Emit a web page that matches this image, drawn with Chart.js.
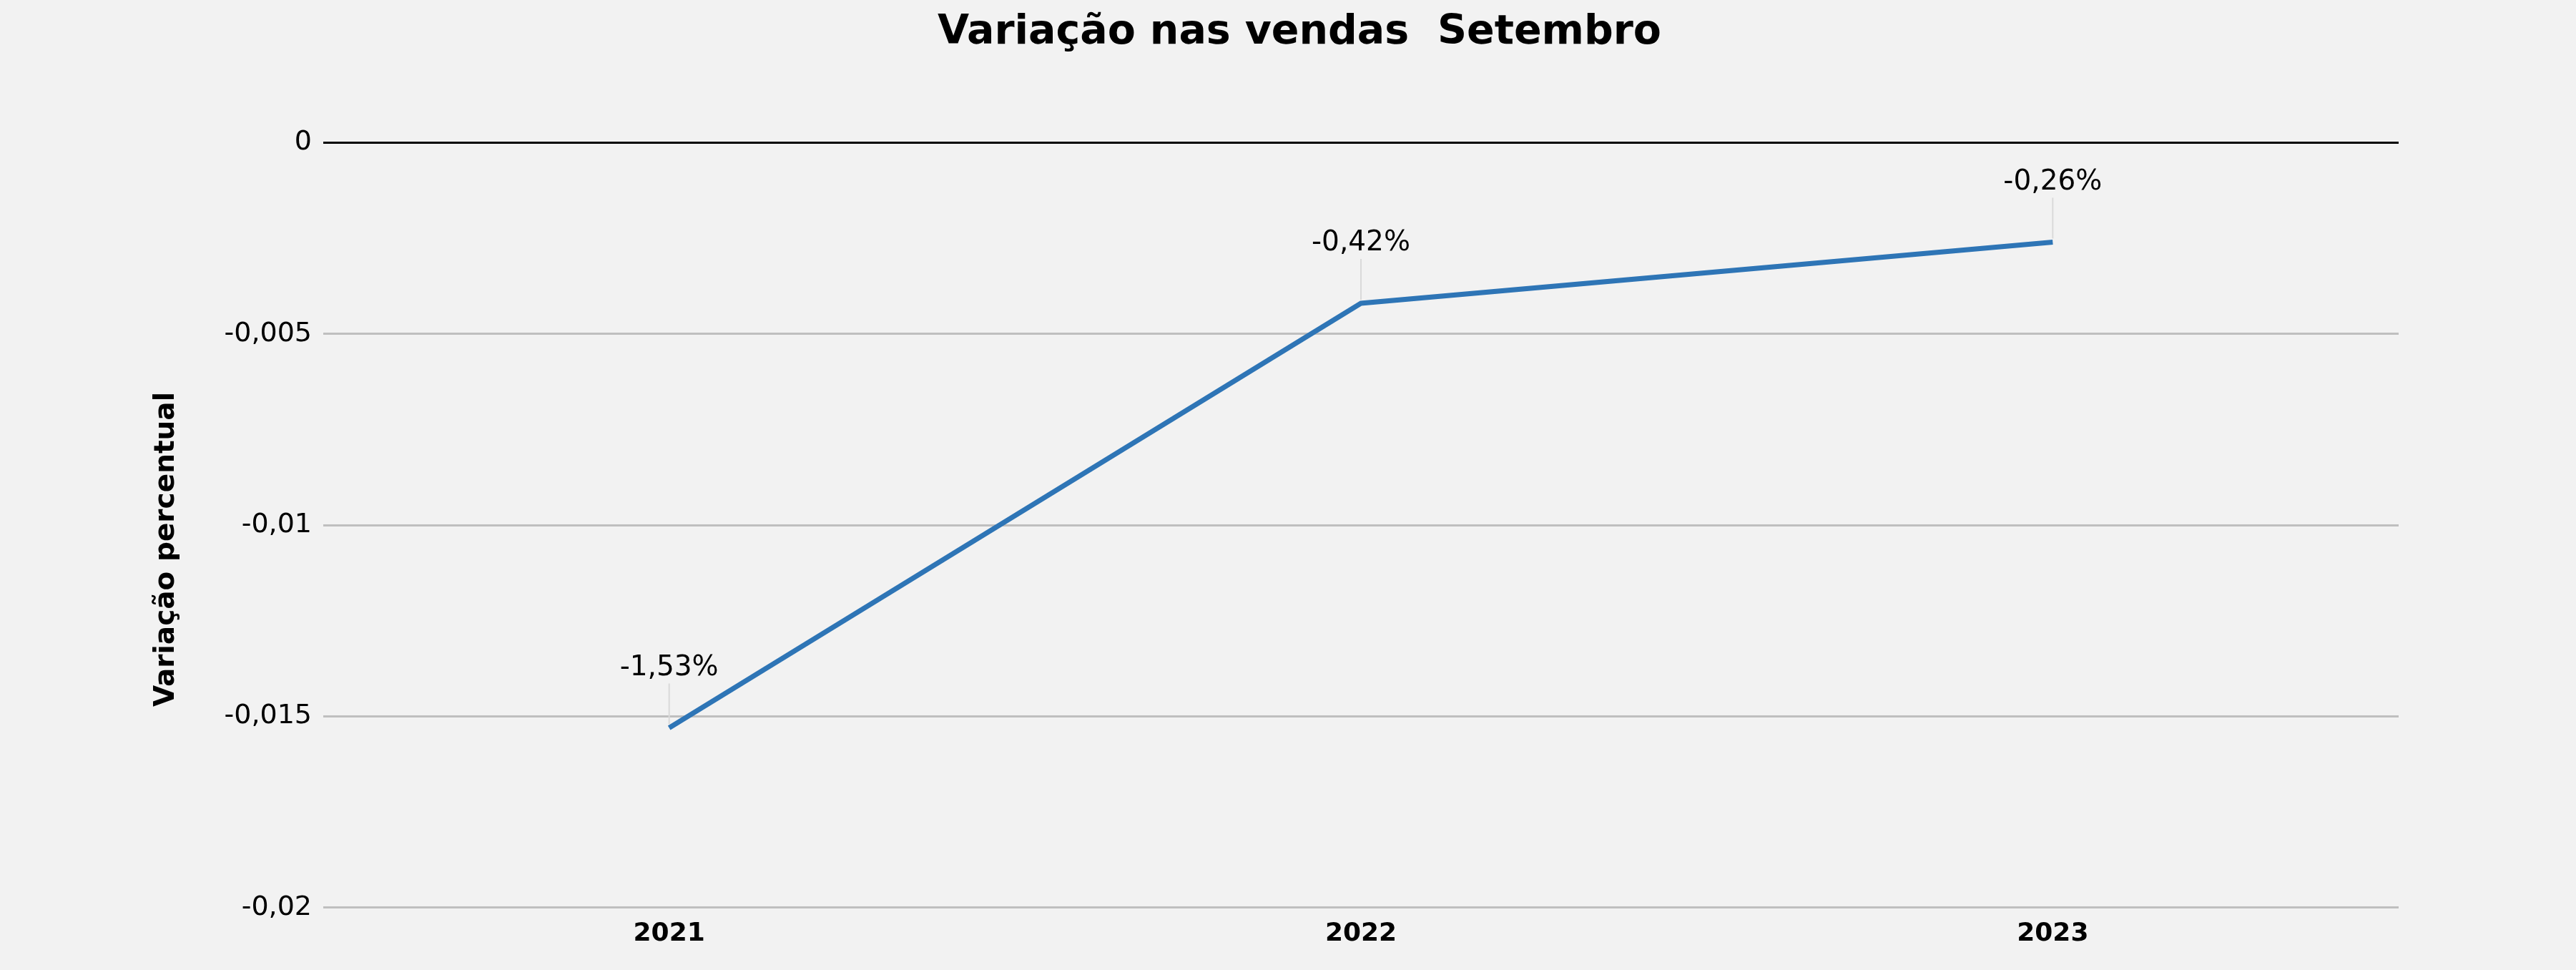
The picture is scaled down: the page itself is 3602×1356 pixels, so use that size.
<!DOCTYPE html>
<html>
<head>
<meta charset="utf-8">
<title>Variação nas vendas Setembro</title>
<script src="https://cdn.jsdelivr.net/npm/chart.js@4/dist/chart.umd.min.js"></script>
<style>
  html, body { margin: 0; padding: 0; background: #f2f2f2; }
  canvas { display: block; }
</style>
</head>
<body>
<canvas id="chart" width="3602" height="1356"></canvas>
<script>
// dados
var anos = ['2021', '2022', '2023'];
var variacao = [-0.0153, -0.0042, -0.0026];
var rotulos = ['-1,53%', '-0,42%', '-0,26%'];

var FONT = '"DejaVu Sans", Verdana, sans-serif';

// fundo cinza
var fundoPlugin = {
  id: 'fundo',
  beforeDraw: function(chart) {
    var ctx = chart.ctx;
    ctx.save();
    ctx.fillStyle = '#f2f2f2';
    ctx.fillRect(0, 0, chart.width, chart.height);
    ctx.restore();
  }
};

// rotulos acima dos pontos com linha guia
var rotuloPlugin = {
  id: 'rotulos',
  afterDatasetsDraw: function(chart) {
    var ctx = chart.ctx;
    var meta = chart.getDatasetMeta(0);
    ctx.save();
    meta.data.forEach(function(pt, i) {
      ctx.strokeStyle = '#d9d9d9';
      ctx.lineWidth = 2;
      ctx.beginPath();
      ctx.moveTo(pt.x, pt.y - 5);
      ctx.lineTo(pt.x, pt.y - 62);
      ctx.stroke();
      ctx.fillStyle = '#000';
      ctx.font = '39px ' + FONT;
      ctx.textAlign = 'center';
      ctx.textBaseline = 'middle';
      ctx.fillText(rotulos[i], pt.x, pt.y - 84);
    });
    ctx.restore();
  }
};

new Chart(document.getElementById('chart'), {
  type: 'line',
  data: {
    labels: anos,
    datasets: [{
      data: variacao,
      borderColor: '#2e75b6',
      borderWidth: 7,
      pointRadius: 0,
      tension: 0,
      fill: false
    }]
  },
  options: {
    responsive: false,
    animation: false,
    layout: { padding: { left: 32, right: 0, bottom: 14, top: 0 } },
    plugins: {
      legend: { display: false },
      tooltip: { enabled: false },
      title: {
        display: true,
        text: 'Variação nas vendas  Setembro',
        color: '#000',
        font: { family: FONT, size: 57, weight: 'bold' },
        padding: { top: 12, bottom: 119 }
      }
    },
    scales: {
      x: {
        offset: true,
        grid: { display: false, drawTicks: false },
        border: { display: false },
        ticks: {
          color: '#000',
          padding: 15,
          font: { family: FONT, size: 36, weight: 'bold' }
        }
      },
      y: {
        min: -0.02,
        max: 0,
        border: { display: false },
        afterFit: function(s) { s.width = 420; },
        grid: {
          drawTicks: false,
          lineWidth: 3,
          color: function(c) { return c.tick && c.tick.value === 0 ? '#000' : '#bfbfbf'; }
        },
        ticks: {
          stepSize: 0.005,
          color: '#000',
          padding: 16,
          font: { family: FONT, size: 38 },
          callback: function(v) {
            return String(Number(v.toFixed(3))).replace('.', ',');
          }
        },
        title: {
          display: true,
          text: 'Variação percentual     ',
          color: '#000',
          font: { family: FONT, size: 39, weight: 'bold' },
          padding: { top: 177, bottom: 0 }
        }
      },
      // eixo vazio a direita so para reservar espaco
      y2: {
        position: 'right',
        display: true,
        grid: { display: false, drawTicks: false },
        border: { display: false },
        ticks: { display: false },
        afterFit: function(s) { s.width = 248; }
      }
    }
  },
  plugins: [fundoPlugin, rotuloPlugin]
});
</script>
</body>
</html>
